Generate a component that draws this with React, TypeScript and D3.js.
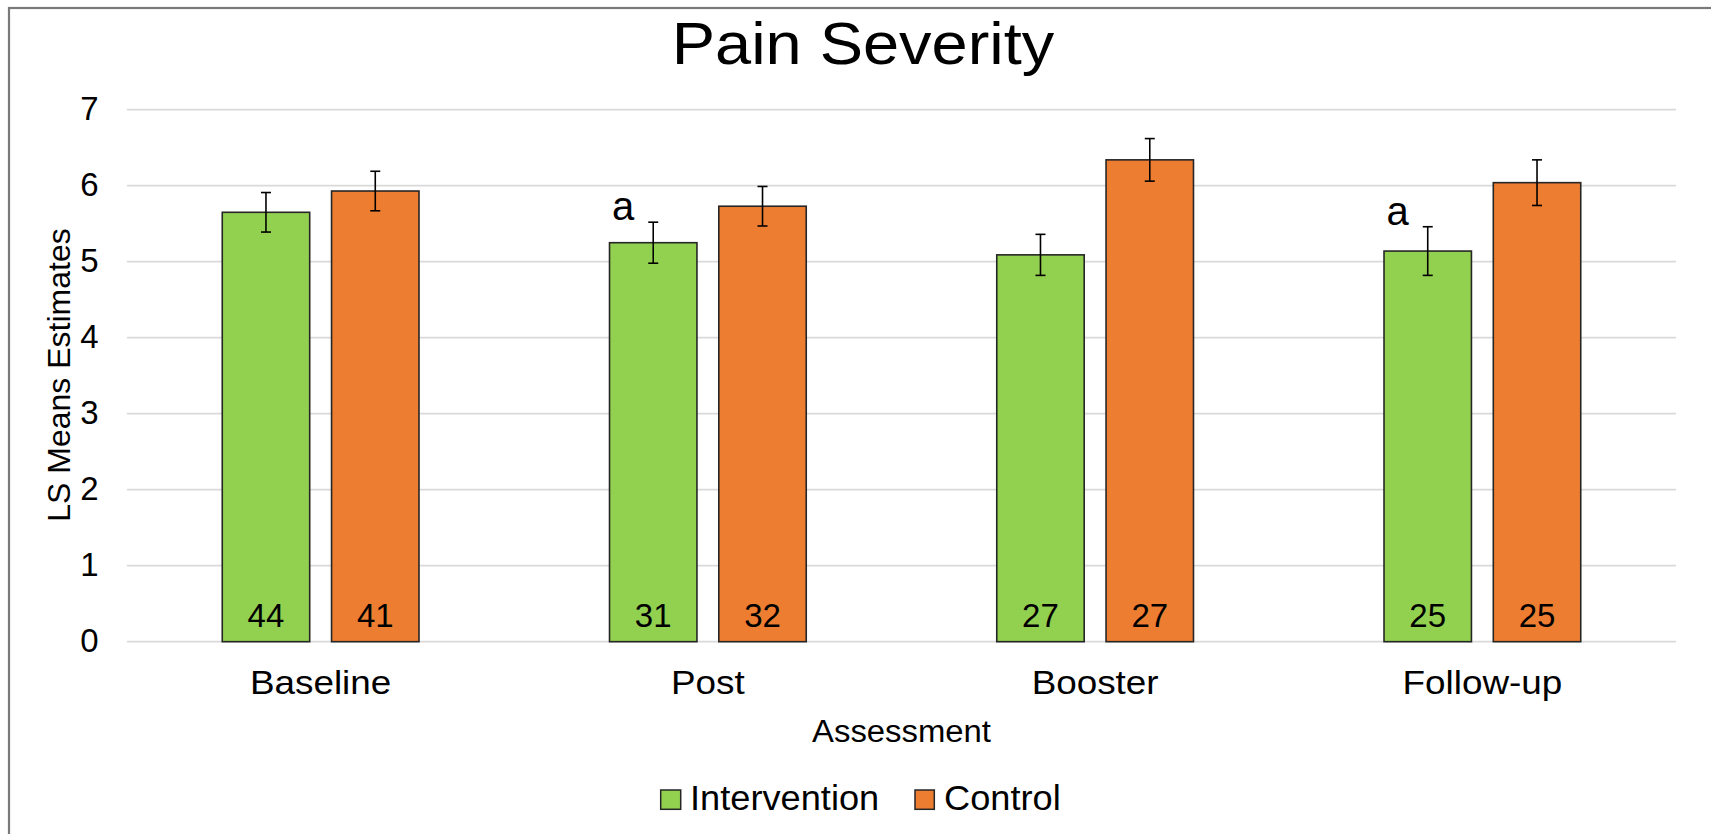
import React from "react";
import * as d3 from "d3";

// Assessment time points and the two study arms
const categories = ["Baseline", "Post", "Booster", "Follow-up"];
const seriesNames = ["Intervention", "Control"];
const seriesColors = ["#92D050", "#ED7D31"];

// LS means estimates per arm
const interventionMeans = [5.65, 5.25, 5.09, 5.14];
const controlMeans = [5.93, 5.73, 6.34, 6.04];

// Standard errors (half-length of the error bars)
const interventionErr = [0.26, 0.27, 0.27, 0.32];
const controlErr = [0.26, 0.26, 0.28, 0.3];

// Sample size shown inside each bar
const interventionN = [44, 31, 27, 25];
const controlN = [41, 32, 27, 25];

// Significance markers above intervention bars
const significance = ["", "a", "", "a"];

const yTicks = [0, 1, 2, 3, 4, 5, 6, 7];

const W = 1711;
const H = 834;
const FONT = "'Liberation Sans', Arial, sans-serif";

// Text drawn with an optional horizontal stretch around its anchor point
function SText({
  x,
  y,
  size,
  sx = 1,
  anchor = "middle",
  children,
}: {
  x: number;
  y: number;
  size: number;
  sx?: number;
  anchor?: "start" | "middle" | "end";
  children: React.ReactNode;
}) {
  return (
    <text
      transform={`translate(${x},${y}) scale(${sx},1)`}
      fontSize={size}
      textAnchor={anchor}
      fill="#000"
    >
      {children}
    </text>
  );
}

export default function App() {
  const plotLeft = 127;
  const plotRight = 1676;
  const plotTop = 109.7;
  const plotBottom = 641.7;

  const x0 = d3
    .scaleBand<string>()
    .domain(categories)
    .range([plotLeft, plotRight])
    .paddingInner(0.492)
    .paddingOuter(0.246);
  const x1 = d3
    .scaleBand<string>()
    .domain(seriesNames)
    .range([0, x0.bandwidth()])
    .paddingInner(0.2);
  const y = d3.scaleLinear().domain([0, 7]).range([plotBottom, plotTop]);

  const series = [
    { name: seriesNames[0], color: seriesColors[0], means: interventionMeans, err: interventionErr, n: interventionN },
    { name: seriesNames[1], color: seriesColors[1], means: controlMeans, err: controlErr, n: controlN },
  ];

  const plotCenter = (plotLeft + plotRight) / 2;

  return (
    <svg
      width={W}
      height={H}
      style={{ position: "absolute", left: 0, top: 0, background: "#fff" }}
      fontFamily={FONT}
    >
      {/* outer chart frame */}
      <rect x={9} y={8} width={W + 20} height={H + 20} fill="#fff" stroke="#7a7a7a" strokeWidth={2.2} />

      {/* title */}
      <SText x={863} y={63.5} size={59} sx={1.1}>
        Pain Severity
      </SText>

      {/* gridlines and y ticks */}
      {yTicks.map((t) => (
        <g key={t}>
          <line x1={plotLeft} x2={plotRight} y1={y(t)} y2={y(t)} stroke="#d9d9d9" strokeWidth={1.8} />
          <SText x={98.5} y={y(t) + 10} size={33} anchor="end">
            {t}
          </SText>
        </g>
      ))}

      {/* y axis title */}
      <text
        transform={`translate(70,375) rotate(-90)`}
        fontSize={32}
        textAnchor="middle"
        fill="#000"
      >
        LS Means Estimates
      </text>

      {/* bars, error bars, counts */}
      {categories.map((c, i) => (
        <g key={c} transform={`translate(${x0(c)},0)`}>
          {series.map((s) => {
            const bx = x1(s.name)!;
            const bw = x1.bandwidth();
            const cx = bx + bw / 2;
            const v = s.means[i];
            const e = s.err[i];
            return (
              <g key={s.name}>
                <rect
                  x={bx}
                  y={y(v)}
                  width={bw}
                  height={y(0) - y(v)}
                  fill={s.color}
                  stroke="#262626"
                  strokeWidth={1.6}
                />
                <line x1={cx} x2={cx} y1={y(v + e)} y2={y(v - e)} stroke="#000" strokeWidth={1.6} />
                <line x1={cx - 5} x2={cx + 5} y1={y(v + e)} y2={y(v + e)} stroke="#000" strokeWidth={1.6} />
                <line x1={cx - 5} x2={cx + 5} y1={y(v - e)} y2={y(v - e)} stroke="#000" strokeWidth={1.6} />
                <SText x={cx} y={y(0) - 14.4} size={33}>
                  {s.n[i]}
                </SText>
              </g>
            );
          })}
          {significance[i] && (
            <SText
              x={x1(seriesNames[0])! + x1.bandwidth() / 2 - 30}
              y={y(interventionMeans[i] + interventionErr[i]) - 2}
              size={40}
            >
              {significance[i]}
            </SText>
          )}
          <SText x={x0.bandwidth() / 2} y={694} size={33.5} sx={1.1}>
            {c}
          </SText>
        </g>
      ))}

      {/* x axis title */}
      <SText x={plotCenter} y={742.3} size={31} sx={1.06}>
        Assessment
      </SText>

      {/* legend */}
      <g>
        <rect x={660.7} y={790} width={20} height={19.3} fill={seriesColors[0]} stroke="#262626" strokeWidth={1.5} />
        <SText x={690} y={810} size={35} sx={1.035} anchor="start">
          {seriesNames[0]}
        </SText>
        <rect x={915} y={790} width={19.3} height={19.3} fill={seriesColors[1]} stroke="#262626" strokeWidth={1.5} />
        <SText x={944} y={810} size={35} sx={1.035} anchor="start">
          {seriesNames[1]}
        </SText>
      </g>
    </svg>
  );
}
